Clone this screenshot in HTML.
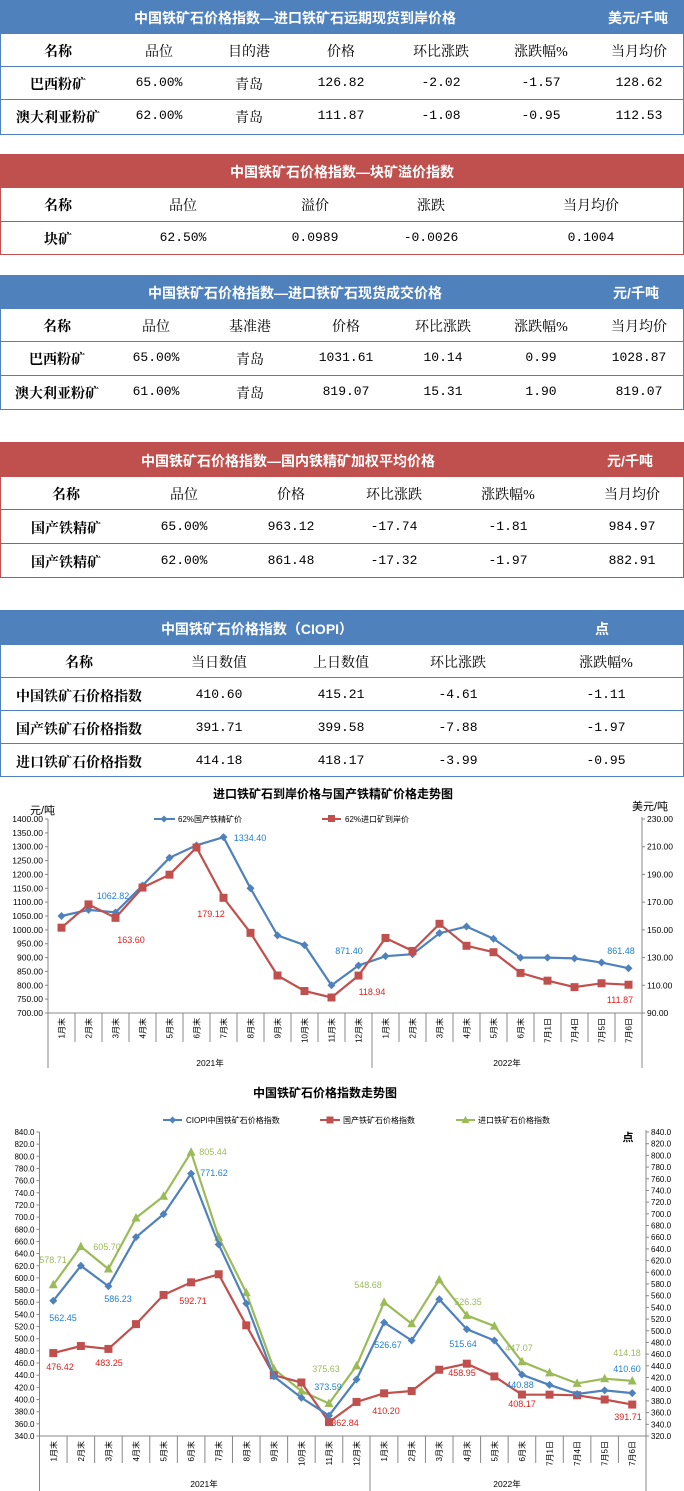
<!DOCTYPE html>
<html><head><meta charset="utf-8"><style>
*{margin:0;padding:0;box-sizing:border-box}
body{width:684px;height:1491px;background:#fff;position:relative;overflow:hidden;font-family:"Liberation Serif","Noto Serif CJK SC",serif}
.h{position:absolute;left:0;width:684px;color:#fff;font-family:"Liberation Sans","Noto Sans CJK SC",sans-serif;font-weight:bold;font-size:14px}
.b{background:#4f81bd}.r{background:#c0504d}
.h span,.t span{position:absolute;transform:translateX(-50%);white-space:nowrap}
.t{position:absolute;left:0;width:684px;border:1px solid #4f81bd;border-top:none}
.t.rr{border-color:#c0504d}
.row{position:absolute;left:0;width:100%;font-size:14px;color:#000}
.row.l{border-bottom:1px solid #4f81bd}
.rr .row.l{border-bottom-color:#c0504d}
.n{font-weight:bold;font-family:"Noto Serif CJK SC",serif}
.m{font-family:"Liberation Mono","Noto Serif CJK SC",monospace;font-size:13px}
svg text{font-family:"Liberation Sans","Noto Sans CJK SC",sans-serif}
</style></head><body>

<div class="h b" style="top:0;height:34px"><span style="left:295px;top:8px">中国铁矿石价格指数—进口铁矿石远期现货到岸价格</span><span style="left:638px;top:8px">美元/千吨</span></div>
<div class="t" style="top:34px;height:101px">
<div class="row l" style="top:0;height:33px"><span class="n" style="left:57px;top:7px">名称</span><span style="left:158px;top:7px">品位</span><span style="left:248px;top:7px">目的港</span><span style="left:340px;top:7px">价格</span><span style="left:440px;top:7px">环比涨跌</span><span style="left:540px;top:7px">涨跌幅%</span><span style="left:638px;top:7px">当月均价</span></div>
<div class="row l" style="top:33px;height:33px"><span class="n" style="left:57px;top:7px">巴西粉矿</span><span class="m" style="left:158px;top:8px">65.00%</span><span style="left:248px;top:7px">青岛</span><span class="m" style="left:340px;top:8px">126.82</span><span class="m" style="left:440px;top:8px">-2.02</span><span class="m" style="left:540px;top:8px">-1.57</span><span class="m" style="left:638px;top:8px">128.62</span></div>
<div class="row" style="top:66px;height:33px"><span class="n" style="left:57px;top:7px">澳大利亚粉矿</span><span class="m" style="left:158px;top:8px">62.00%</span><span style="left:248px;top:7px">青岛</span><span class="m" style="left:340px;top:8px">111.87</span><span class="m" style="left:440px;top:8px">-1.08</span><span class="m" style="left:540px;top:8px">-0.95</span><span class="m" style="left:638px;top:8px">112.53</span></div>
</div>

<div class="h r" style="top:154px;height:34px"><span style="left:342px;top:8px">中国铁矿石价格指数—块矿溢价指数</span></div>
<div class="t rr" style="top:188px;height:67px">
<div class="row l" style="top:0;height:34px"><span class="n" style="left:57px;top:7px">名称</span><span style="left:182px;top:7px">品位</span><span style="left:314px;top:7px">溢价</span><span style="left:430px;top:7px">涨跌</span><span style="left:590px;top:7px">当月均价</span></div>
<div class="row" style="top:34px;height:33px"><span class="n" style="left:57px;top:7px">块矿</span><span class="m" style="left:182px;top:8px">62.50%</span><span class="m" style="left:314px;top:8px">0.0989</span><span class="m" style="left:430px;top:8px">-0.0026</span><span class="m" style="left:590px;top:8px">0.1004</span></div>
</div>

<div class="h b" style="top:275px;height:34px"><span style="left:295px;top:8px">中国铁矿石价格指数—进口铁矿石现货成交价格</span><span style="left:636px;top:8px">元/千吨</span></div>
<div class="t" style="top:309px;height:101px">
<div class="row l" style="top:0;height:33px"><span class="n" style="left:56px;top:7px">名称</span><span style="left:155px;top:7px">品位</span><span style="left:249px;top:7px">基准港</span><span style="left:345px;top:7px">价格</span><span style="left:442px;top:7px">环比涨跌</span><span style="left:540px;top:7px">涨跌幅%</span><span style="left:638px;top:7px">当月均价</span></div>
<div class="row l" style="top:33px;height:34px"><span class="n" style="left:56px;top:7px">巴西粉矿</span><span class="m" style="left:155px;top:8px">65.00%</span><span style="left:249px;top:7px">青岛</span><span class="m" style="left:345px;top:8px">1031.61</span><span class="m" style="left:442px;top:8px">10.14</span><span class="m" style="left:540px;top:8px">0.99</span><span class="m" style="left:638px;top:8px">1028.87</span></div>
<div class="row" style="top:67px;height:33px"><span class="n" style="left:56px;top:7px">澳大利亚粉矿</span><span class="m" style="left:155px;top:8px">61.00%</span><span style="left:249px;top:7px">青岛</span><span class="m" style="left:345px;top:8px">819.07</span><span class="m" style="left:442px;top:8px">15.31</span><span class="m" style="left:540px;top:8px">1.90</span><span class="m" style="left:638px;top:8px">819.07</span></div>
</div>

<div class="h r" style="top:442px;height:35px"><span style="left:288px;top:9px">中国铁矿石价格指数—国内铁精矿加权平均价格</span><span style="left:630px;top:9px">元/千吨</span></div>
<div class="t rr" style="top:477px;height:101px">
<div class="row l" style="top:0;height:33px"><span class="n" style="left:65px;top:7px">名称</span><span style="left:183px;top:7px">品位</span><span style="left:290px;top:7px">价格</span><span style="left:393px;top:7px">环比涨跌</span><span style="left:507px;top:7px">涨跌幅%</span><span style="left:631px;top:7px">当月均价</span></div>
<div class="row l" style="top:33px;height:34px"><span class="n" style="left:65px;top:8px">国产铁精矿</span><span class="m" style="left:183px;top:9px">65.00%</span><span class="m" style="left:290px;top:9px">963.12</span><span class="m" style="left:393px;top:9px">-17.74</span><span class="m" style="left:507px;top:9px">-1.81</span><span class="m" style="left:631px;top:9px">984.97</span></div>
<div class="row" style="top:67px;height:33px"><span class="n" style="left:65px;top:8px">国产铁精矿</span><span class="m" style="left:183px;top:9px">62.00%</span><span class="m" style="left:290px;top:9px">861.48</span><span class="m" style="left:393px;top:9px">-17.32</span><span class="m" style="left:507px;top:9px">-1.97</span><span class="m" style="left:631px;top:9px">882.91</span></div>
</div>

<div class="h b" style="top:610px;height:35px"><span style="left:257px;top:9px">中国铁矿石价格指数（CIOPI）</span><span style="left:602px;top:9px">点</span></div>
<div class="t" style="top:645px;height:132px">
<div class="row l" style="top:0;height:33px"><span class="n" style="left:78px;top:7px">名称</span><span style="left:218px;top:7px">当日数值</span><span style="left:340px;top:7px">上日数值</span><span style="left:457px;top:7px">环比涨跌</span><span style="left:605px;top:7px">涨跌幅%</span></div>
<div class="row l" style="top:33px;height:33px"><span class="n" style="left:78px;top:8px">中国铁矿石价格指数</span><span class="m" style="left:218px;top:9px">410.60</span><span class="m" style="left:340px;top:9px">415.21</span><span class="m" style="left:457px;top:9px">-4.61</span><span class="m" style="left:605px;top:9px">-1.11</span></div>
<div class="row l" style="top:66px;height:33px"><span class="n" style="left:78px;top:8px">国产铁矿石价格指数</span><span class="m" style="left:218px;top:9px">391.71</span><span class="m" style="left:340px;top:9px">399.58</span><span class="m" style="left:457px;top:9px">-7.88</span><span class="m" style="left:605px;top:9px">-1.97</span></div>
<div class="row" style="top:99px;height:33px"><span class="n" style="left:78px;top:8px">进口铁矿石价格指数</span><span class="m" style="left:218px;top:9px">414.18</span><span class="m" style="left:340px;top:9px">418.17</span><span class="m" style="left:457px;top:9px">-3.99</span><span class="m" style="left:605px;top:9px">-0.95</span></div>
</div>

<svg id="s" width="684" height="1491" style="position:absolute;left:0;top:0" xmlns="http://www.w3.org/2000/svg">
<g id="grid" stroke="#888" stroke-width="1" fill="none"></g>
<!-- chart 1 text -->
<text x="333" y="798" font-size="12" font-weight="bold" text-anchor="middle">进口铁矿石到岸价格与国产铁精矿价格走势图</text>
<text x="30" y="814" font-size="11">元/吨</text>
<text x="632" y="810" font-size="11">美元/吨</text>
<line x1="154" y1="819" x2="175" y2="819" stroke="#4f81bd" stroke-width="2"/><rect x="161.5" y="816.5" width="5" height="5" fill="#4f81bd" transform="rotate(45 164 819)"/>
<text x="178" y="822" font-size="8">62%国产铁精矿价</text>
<line x1="322" y1="819" x2="341" y2="819" stroke="#c0504d" stroke-width="2"/><rect x="328" y="815" width="7" height="7" fill="#c0504d"/>
<text x="345" y="822" font-size="8">62%进口矿到岸价</text>
<g id="c1l" font-size="8.5" text-anchor="end"><text>1400.00</text><text>1350.00</text><text>1300.00</text><text>1250.00</text><text>1200.00</text><text>1150.00</text><text>1100.00</text><text>1050.00</text><text>1000.00</text><text>950.00</text><text>900.00</text><text>850.00</text><text>800.00</text><text>750.00</text><text>700.00</text></g>
<g id="c1r" font-size="8.5"><text>230.00</text><text>210.00</text><text>190.00</text><text>170.00</text><text>150.00</text><text>130.00</text><text>110.00</text><text>90.00</text></g>
<g id="c1c" font-size="8" text-anchor="end"><text>1月末</text><text>2月末</text><text>3月末</text><text>4月末</text><text>5月末</text><text>6月末</text><text>7月末</text><text>8月末</text><text>9月末</text><text>10月末</text><text>11月末</text><text>12月末</text><text>1月末</text><text>2月末</text><text>3月末</text><text>4月末</text><text>5月末</text><text>6月末</text><text>7月1日</text><text>7月4日</text><text>7月5日</text><text>7月6日</text></g>
<text x="210" y="1066" font-size="8.5" text-anchor="middle">2021年</text>
<text x="507" y="1066" font-size="8.5" text-anchor="middle">2022年</text>
<g font-size="9" fill="#1f7fd0" text-anchor="middle"><text x="113" y="899">1062.82</text><text x="250" y="841">1334.40</text><text x="349" y="954">871.40</text><text x="621" y="954">861.48</text></g>
<g font-size="9" fill="#e0201e" text-anchor="middle"><text x="131" y="943">163.60</text><text x="211" y="917">179.12</text><text x="372" y="995">118.94</text><text x="620" y="1003">111.87</text></g>
<!-- chart 2 text -->
<text x="325" y="1097" font-size="12" font-weight="bold" text-anchor="middle">中国铁矿石价格指数走势图</text>
<line x1="163" y1="1120" x2="182" y2="1120" stroke="#4f81bd" stroke-width="2"/><rect x="170" y="1117.5" width="5" height="5" fill="#4f81bd" transform="rotate(45 172.5 1120)"/>
<text x="186" y="1123" font-size="8">CIOPI中国铁矿石价格指数</text>
<line x1="320" y1="1120" x2="340" y2="1120" stroke="#c0504d" stroke-width="2"/><rect x="326.5" y="1116.5" width="7" height="7" fill="#c0504d"/>
<text x="343" y="1123" font-size="8">国产铁矿石价格指数</text>
<line x1="456" y1="1120" x2="475" y2="1120" stroke="#9bbb59" stroke-width="2"/><polygon points="465.5,1116 469.5,1123 461.5,1123" fill="#9bbb59"/>
<text x="478" y="1123" font-size="8">进口铁矿石价格指数</text>
<text x="628" y="1141" font-size="11" font-weight="bold" text-anchor="middle">点</text>
<g id="c2l" font-size="8" text-anchor="end"><text>840.0</text><text>820.0</text><text>800.0</text><text>780.0</text><text>760.0</text><text>740.0</text><text>720.0</text><text>700.0</text><text>680.0</text><text>660.0</text><text>640.0</text><text>620.0</text><text>600.0</text><text>580.0</text><text>560.0</text><text>540.0</text><text>520.0</text><text>500.0</text><text>480.0</text><text>460.0</text><text>440.0</text><text>420.0</text><text>400.0</text><text>380.0</text><text>360.0</text><text>340.0</text></g>
<g id="c2r" font-size="8"><text>840.0</text><text>820.0</text><text>800.0</text><text>780.0</text><text>760.0</text><text>740.0</text><text>720.0</text><text>700.0</text><text>680.0</text><text>660.0</text><text>640.0</text><text>620.0</text><text>600.0</text><text>580.0</text><text>560.0</text><text>540.0</text><text>520.0</text><text>500.0</text><text>480.0</text><text>460.0</text><text>440.0</text><text>420.0</text><text>400.0</text><text>380.0</text><text>360.0</text><text>340.0</text><text>320.0</text></g>
<g id="c2c" font-size="8" text-anchor="end"><text>1月末</text><text>2月末</text><text>3月末</text><text>4月末</text><text>5月末</text><text>6月末</text><text>7月末</text><text>8月末</text><text>9月末</text><text>10月末</text><text>11月末</text><text>12月末</text><text>1月末</text><text>2月末</text><text>3月末</text><text>4月末</text><text>5月末</text><text>6月末</text><text>7月1日</text><text>7月4日</text><text>7月5日</text><text>7月6日</text></g>
<text x="204" y="1487" font-size="8.5" text-anchor="middle">2021年</text>
<text x="507" y="1487" font-size="8.5" text-anchor="middle">2022年</text>
<g id="series"></g>
<g font-size="9" fill="#9bbb59" text-anchor="middle"><text x="53" y="1263">578.71</text><text x="107" y="1250">605.70</text><text x="213" y="1155">805.44</text><text x="326" y="1372">375.63</text><text x="368" y="1288">548.68</text><text x="468" y="1305">526.35</text><text x="519" y="1351">447.07</text><text x="627" y="1356">414.18</text></g>
<g font-size="9" fill="#1f7fd0" text-anchor="middle"><text x="63" y="1321">562.45</text><text x="118" y="1302">586.23</text><text x="214" y="1176">771.62</text><text x="328" y="1390">373.59</text><text x="388" y="1348">526.67</text><text x="463" y="1347">515.64</text><text x="520" y="1388">440.88</text><text x="627" y="1372">410.60</text></g>
<g font-size="9" fill="#e0201e" text-anchor="middle"><text x="60" y="1370">476.42</text><text x="109" y="1366">483.25</text><text x="193" y="1304">592.71</text><text x="345" y="1426">362.84</text><text x="386" y="1414">410.20</text><text x="462" y="1376">458.95</text><text x="522" y="1407">408.17</text><text x="628" y="1420">391.71</text></g>
</svg>
<script>
var NS="http://www.w3.org/2000/svg",G=document.getElementById('grid'),S=document.getElementById('series');
function el(p,t,a){var e=document.createElementNS(NS,t);for(var k in a)e.setAttribute(k,a[k]);p.appendChild(e);return e}
function ln(x1,y1,x2,y2){el(G,'line',{x1:x1,y1:y1,x2:x2,y2:y2})}
function axes(L,R,T,B,nl,nr,catY,yrB,split,ncat,lab,cat){
 ln(L,T,L,yrB);ln(R,T-2,R,yrB);ln(L,B,R,B);ln(split,B,split,yrB);
 var w=(R-L)/ncat;
 for(var i=1;i<ncat;i++){if(i!=12)ln(L+w*i,B,L+w*i,catY)}
 var lt=document.getElementById(lab+'l').children,rt=document.getElementById(lab+'r').children;
 for(i=0;i<nl;i++){var y=T+(B-T)*i/(nl-1);ln(L-3,y,L,y);lt[i].setAttribute('x',L-5);lt[i].setAttribute('y',y+3)}
 for(i=0;i<nr;i++){y=T+(B-T)*i/(nr-1);ln(R,y,R+3,y);rt[i].setAttribute('x',R+5);rt[i].setAttribute('y',y+3)}
 var ct=document.getElementById(cat).children;
 for(i=0;i<ncat;i++){var x=L+w*(i+.5)+3;ct[i].setAttribute('transform','translate('+x+','+(B+5)+') rotate(-90)')}
 return w}
function ser(pts,col,mk){var d=pts.map(function(p){return p[0].toFixed(1)+','+p[1].toFixed(1)}).join(' ');
 el(S,'polyline',{points:d,fill:'none',stroke:col,'stroke-width':2.2});
 pts.forEach(function(p){var x=p[0],y=p[1];
  if(mk=='d')el(S,'polygon',{points:(x)+','+(y-4)+' '+(x+4)+','+y+' '+x+','+(y+4)+' '+(x-4)+','+y,fill:col});
  else if(mk=='s')el(S,'rect',{x:x-4,y:y-4,width:8,height:8,fill:col});
  else el(S,'polygon',{points:x+','+(y-5)+' '+(x+4.5)+','+(y+3.5)+' '+(x-4.5)+','+(y+3.5),fill:col});})}
// chart1
var w1=axes(48,642,819,1013,15,8,1042,1068,372,22,'c1','c1c');
var b1=[1050,1072,1062.82,1160,1260,1305,1334.4,1150,980,945,800,871.4,905,912,988,1012,968,900,900,897,882,861.48];
var r1=[156,174,163.6,187,197,218,179.12,152,119,107,102,118.94,148,138,159,142,137,121,115,110,113,111.87];
ser(b1.map(function(v,i){return[48+w1*(i+.5),819+(1400-v)*194/700]}),'#4f81bd','d');
ser(r1.map(function(v,i){return[48+w1*(i+.5),1013-(v-90)*181/140]}),'#c0504d','s');
// chart2
var w2=axes(39.5,646,1132,1436,26,27,1463,1491,370,22,'c2','c2c');
var b2=[562.45,620,586.23,667,705,771.62,655,558,438,403,373.59,433,526.67,497,565,515.64,497,440.88,424,409,415,410.6];
var r2=[476.42,488,483.25,524,572,592.71,606,522,440,428,362.84,396,410.2,414,449,458.95,438,408.17,408,407,400,391.71];
var g2=[578.71,644,605.7,693,730,805.44,660,565,435,397,375.63,440,548.68,512,587,526.35,508,447.07,428,410,418,414.18];
ser(g2.map(function(v,i){return[39.5+w2*(i+.5),1132+(840-v)*304/520]}),'#9bbb59','t');
ser(r2.map(function(v,i){return[39.5+w2*(i+.5),1132+(840-v)*304/500]}),'#c0504d','s');
ser(b2.map(function(v,i){return[39.5+w2*(i+.5),1132+(840-v)*304/500]}),'#4f81bd','d');
</script>
</body></html>
